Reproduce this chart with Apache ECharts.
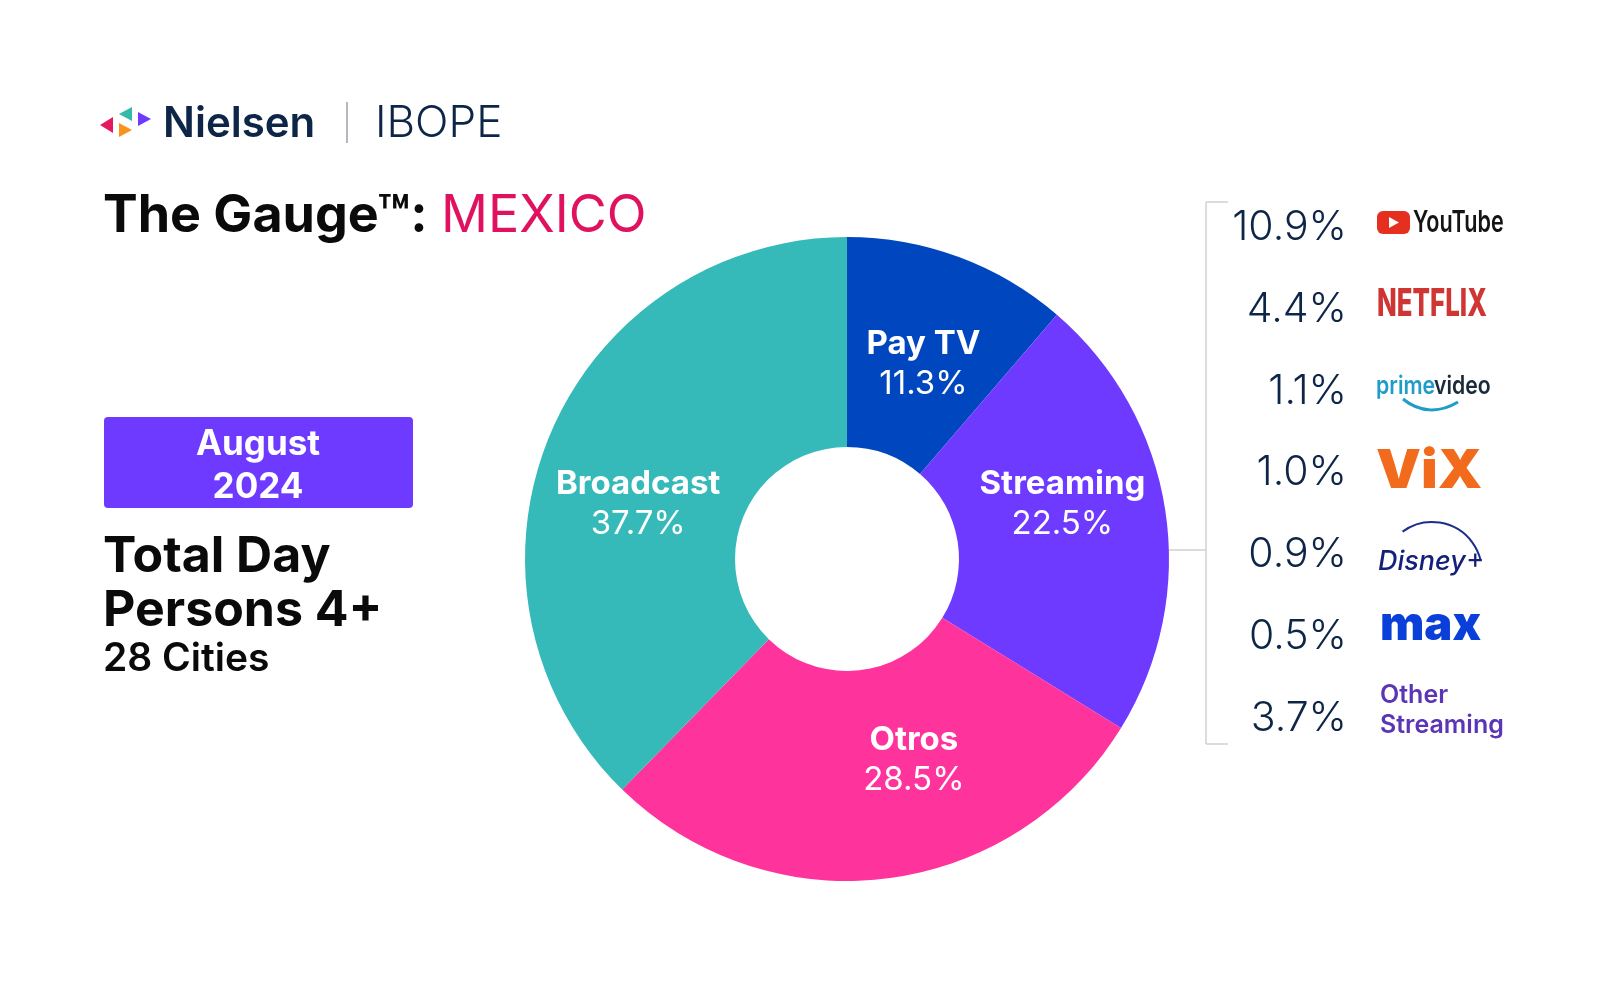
<!DOCTYPE html>
<html>
<head>
<meta charset="utf-8">
<title>The Gauge Mexico</title>
<script src="https://cdn.jsdelivr.net/npm/echarts@6/dist/echarts.min.js"></script>
<style>
  html, body { margin: 0; padding: 0; background: #fff; }
  #chart { width: 1600px; height: 1000px; }
</style>
</head>
<body>
<div id="chart"></div>
<script>
// shares of total TV usage
const categories = ['Pay TV', 'Streaming', 'Otros', 'Broadcast'];
const shares = [11.3, 22.5, 28.5, 37.7];
const streamingNames = ['YouTube', 'Netflix', 'Prime Video', 'ViX', 'Disney+', 'Max', 'Other Streaming'];
const streamingShares = [10.9, 4.4, 1.1, 1.0, 0.9, 0.5, 3.7];

const sliceColors = ['#0047BF', '#6F3AFF', '#FF339C', '#36B9B9'];
// nudge labels away from the mid-radius spot
const labelOffsets = [[0, 11], [-2, -21], [40, -17], [-5, 28]];

const FONT = 'Inter';
const NAVY = '#0D2547';

const myChart = echarts.init(document.getElementById('chart'), null, { renderer: 'canvas' });

function label(text, x, y, size, weight, fill, extra) {
  return Object.assign({
    type: 'text',
    x: x,
    y: y,
    silent: true,
    style: Object.assign({
      text: text,
      font: weight + ' ' + size + 'px ' + FONT,
      fill: fill,
      textAlign: 'left',
      textVerticalAlign: 'middle'
    }, extra && extra.style)
  }, extra && extra.el);
}

function tri(points, fill) {
  return { type: 'polygon', silent: true, shape: { points: points }, style: { fill: fill } };
}

function line(x1, y1, x2, y2, stroke, width) {
  return {
    type: 'line',
    silent: true,
    shape: { x1: x1, y1: y1, x2: x2, y2: y2 },
    style: { stroke: stroke, lineWidth: width || 1.5 }
  };
}

function arc(cx, cy, r, a0, a1, stroke, width) {
  return {
    type: 'arc',
    silent: true,
    shape: { cx: cx, cy: cy, r: r, startAngle: a0, endAngle: a1, clockwise: true },
    style: { stroke: stroke, lineWidth: width, fill: 'none' }
  };
}

// brand marks, drawn as text plus simple shapes
const logos = [
  { type: 'rect', silent: true, shape: { x: 1377, y: 211, width: 33, height: 23, r: 6 }, style: { fill: '#E5301F' } },
  tri([[1389, 217], [1389, 228], [1399, 222.5]], '#fff'),
  label('YouTube', 1413, 223, 30, 600, '#141414', { el: { scaleX: 0.72 } }),
  label('NETFLIX', 1377, 305, 38, 800, '#CE3533', { el: { scaleX: 0.68 } }),
  label('prime', 1376, 386, 25, 600, '#1F9CC7', { el: { scaleX: 0.85 } }),
  label('video', 1434, 386, 25, 600, '#1A2A3A', { el: { scaleX: 0.85 } }),
  {
    type: 'bezierCurve',
    silent: true,
    shape: { x1: 1403, y1: 399, cpx1: 1420, cpy1: 413, cpx2: 1440, cpy2: 413, x2: 1458, y2: 402 },
    style: { stroke: '#1F9CC7', lineWidth: 3, fill: 'none' }
  },
  label('ViX', 1376, 472, 54, 900, '#F26A1B', { el: { scaleX: 1.05 } }),
  arc(1432, 572, 50, -2.2, -0.25, '#1B2F8A', 2),
  label('Disney', 1378, 562, 27, 500, '#15207A', { style: { font: 'italic 500 27px ' + FONT } }),
  label('+', 1466, 560, 28, 400, '#15207A'),
  label('max', 1380, 626, 47, 900, '#0B3FD9'),
  label('Other', 1380, 695, 25, 600, '#5A35B5'),
  label('Streaming', 1380, 725, 25, 600, '#5A35B5')
];

const streamingRows = streamingShares.map((v, i) =>
  label(v.toFixed(1) + '%', 1347, 228 + i * 81.7, 41, 300, NAVY, { style: { textAlign: 'right' } })
);

const option = {
  backgroundColor: '#fff',
  animation: false,
  textStyle: { fontFamily: FONT },
  series: [
    {
      type: 'pie',
      center: [847, 559],
      radius: [112, 322],
      startAngle: 90,
      clockwise: true,
      silent: true,
      labelLine: { show: false },
      data: categories.map((name, i) => ({
        name: name,
        value: shares[i],
        itemStyle: { color: sliceColors[i] },
        label: { offset: labelOffsets[i] }
      })),
      label: {
        position: 'inside',
        color: '#fff',
        formatter: (p) => '{n|' + p.name + '}\n{v|' + p.value.toFixed(1) + '%}',
        rich: {
          n: { fontFamily: FONT, fontSize: 33, fontWeight: 700, color: '#fff', lineHeight: 40, align: 'center' },
          v: { fontFamily: FONT, fontSize: 33, fontWeight: 400, color: '#fff', lineHeight: 40, align: 'center' }
        }
      }
    }
  ],
  graphic: [
    // header
    tri([[100, 125], [113, 117], [113, 133]], '#E5195F'),
    tri([[119, 114], [132, 107], [132, 121]], '#36B9A9'),
    tri([[138, 112], [151, 119], [138, 126]], '#6F3AFF'),
    tri([[119, 123], [132, 130], [119, 137]], '#F7941D'),
    label('Nielsen', 163, 124, 42, 600, NAVY),
    line(347, 102, 347, 143, '#9AA0A8', 1.5),
    label('IBOPE', 375, 124, 44, 300, NAVY),
    label('The Gauge\u2122:', 103, 216, 52, 700, '#0A0A0A'),
    label('MEXICO', 441, 216, 52, 400, '#E0115F'),
    // period box
    { type: 'rect', silent: true, shape: { x: 104, y: 417, width: 309, height: 91, r: 4 }, style: { fill: '#6F3AFF' } },
    label('August', 258, 444, 35, 700, '#fff', { style: { textAlign: 'center' } }),
    label('2024', 258, 487, 35, 700, '#fff', { style: { textAlign: 'center' } }),
    // audience
    label('Total Day', 103, 557, 50, 700, '#0A0A0A'),
    label('Persons 4+', 103, 611, 50, 700, '#0A0A0A'),
    label('28 Cities', 103, 659, 39, 600, '#0A0A0A'),
    // streaming callout bracket
    line(1169, 550, 1206, 550, '#D0D0D0'),
    line(1206, 202, 1206, 744, '#D0D0D0'),
    line(1206, 202, 1228, 202, '#D0D0D0'),
    line(1206, 744, 1228, 744, '#D0D0D0')
  ].concat(streamingRows, logos)
};

myChart.setOption(option);
</script>
</body>
</html>
